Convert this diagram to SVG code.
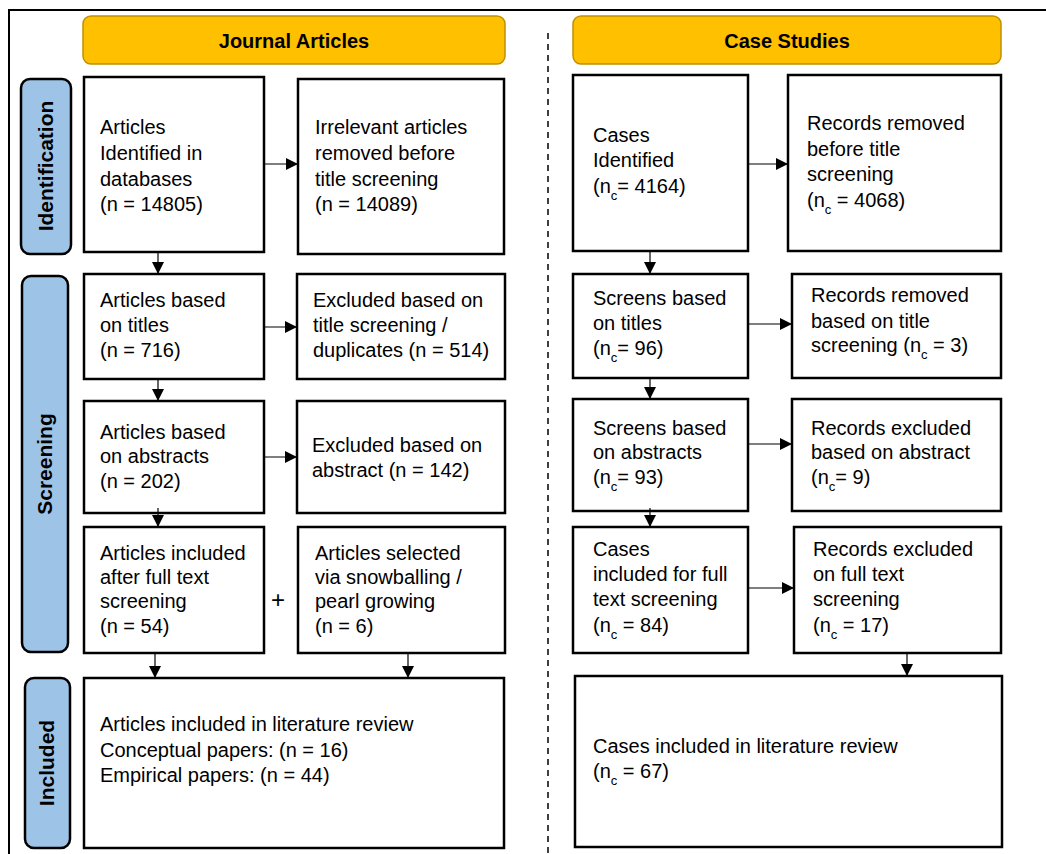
<svg xmlns="http://www.w3.org/2000/svg" width="1046" height="854" viewBox="0 0 1046 854">
<style>
  .box{fill:#fff;stroke:#000;stroke-width:2.5}
  .hdr{fill:#FFC000;stroke:#BF9000;stroke-width:1.5}
  .lbl{fill:#9DC3E6;stroke:#000;stroke-width:2.5}
  .t{font-family:"Liberation Sans",Arial,sans-serif;font-size:20px;fill:#000}
  .hb{font-family:"Liberation Sans",Arial,sans-serif;font-size:20px;font-weight:bold;fill:#000;text-anchor:middle}
  .sb{font-family:"Liberation Sans",Arial,sans-serif;font-size:21px;font-weight:bold;fill:#000;text-anchor:middle}
  .s{font-size:13px}
  .c{stroke:#000;stroke-width:1.2;fill:none;marker-end:url(#ah)}
</style>
<defs>
  <marker id="ah" markerUnits="userSpaceOnUse" markerWidth="12" markerHeight="12" refX="12" refY="6" orient="auto">
    <path d="M0,0 L12,6 L0,12 z" fill="#000"/>
  </marker>
</defs>
<rect width="1046" height="854" fill="#fff"/>
<g id="frame">
  <path d="M9,854 V10 H1046" fill="none" stroke="#000" stroke-width="2"/>
  <line x1="548" y1="33" x2="548" y2="854" stroke="#000" stroke-width="1.5" stroke-dasharray="6,5"/>
</g>
<g id="hdr-journal"><rect class="hdr" x="83" y="16" width="422" height="48" rx="8"/><text class="hb" x="294" y="48">Journal Articles</text></g>
<g id="hdr-case"><rect class="hdr" x="573" y="16" width="428" height="48" rx="8"/><text class="hb" x="787" y="48">Case Studies</text></g>
<g id="lbl-identification"><rect class="lbl" x="21" y="79" width="50" height="175" rx="9"/><text class="sb" transform="translate(53,166) rotate(-90)">Identification</text></g>
<g id="lbl-screening"><rect class="lbl" x="22" y="276" width="46" height="376" rx="9"/><text class="sb" transform="translate(52,464) rotate(-90)">Screening</text></g>
<g id="lbl-included"><rect class="lbl" x="25" y="678" width="45" height="170" rx="9"/><text class="sb" transform="translate(54,763) rotate(-90)">Included</text></g>

<g id="a1"><rect class="box" x="84" y="77" width="180" height="175"/><text class="t"><tspan x="100" y="134">Articles</tspan><tspan x="100" y="160">Identified in</tspan><tspan x="100" y="186">databases</tspan><tspan x="100" y="211">(n = 14805)</tspan></text></g>
<g id="a2"><rect class="box" x="298" y="79" width="206" height="175"/><text class="t"><tspan x="315" y="134">Irrelevant articles</tspan><tspan x="315" y="160">removed before</tspan><tspan x="315" y="186">title screening</tspan><tspan x="315" y="211">(n = 14089)</tspan></text></g>
<g id="b1"><rect class="box" x="84" y="274" width="180" height="105"/><text class="t"><tspan x="100" y="307">Articles based</tspan><tspan x="100" y="332">on titles</tspan><tspan x="100" y="357">(n = 716)</tspan></text></g>
<g id="b2"><rect class="box" x="297" y="274" width="208" height="105"/><text class="t"><tspan x="313" y="307">Excluded based on</tspan><tspan x="313" y="332">title screening /</tspan><tspan x="313" y="357">duplicates (n = 514)</tspan></text></g>
<g id="c1"><rect class="box" x="84" y="401" width="180" height="112"/><text class="t"><tspan x="100" y="439">Articles based</tspan><tspan x="100" y="463">on abstracts</tspan><tspan x="100" y="488">(n = 202)</tspan></text></g>
<g id="c2"><rect class="box" x="297" y="401" width="208" height="112"/><text class="t"><tspan x="312" y="452">Excluded based on</tspan><tspan x="312" y="477">abstract (n = 142)</tspan></text></g>
<g id="d1"><rect class="box" x="84" y="527" width="180" height="126"/><text class="t"><tspan x="100" y="560">Articles included</tspan><tspan x="100" y="584">after full text</tspan><tspan x="100" y="608">screening</tspan><tspan x="100" y="633">(n = 54)</tspan></text></g>
<g id="plus"><text class="t" x="278" y="608" text-anchor="middle" style="font-size:24px">+</text></g>
<g id="d2"><rect class="box" x="298" y="527" width="207" height="126"/><text class="t"><tspan x="315" y="560">Articles selected</tspan><tspan x="315" y="584">via snowballing /</tspan><tspan x="315" y="608">pearl growing</tspan><tspan x="315" y="633">(n = 6)</tspan></text></g>
<g id="e"><rect class="box" x="84" y="678" width="420" height="170"/><text class="t"><tspan x="100" y="731">Articles included in literature review</tspan><tspan x="100" y="757">Conceptual papers: (n = 16)</tspan><tspan x="100" y="782">Empirical papers: (n = 44)</tspan></text></g>

<g id="f1"><rect class="box" x="573" y="75" width="175" height="176"/><text class="t"><tspan x="593" y="142">Cases</tspan><tspan x="593" y="167">Identified</tspan><tspan x="593" y="193">(n<tspan class="s" dy="7">c</tspan><tspan dy="-7">= 4164)</tspan></tspan></text></g>
<g id="f2"><rect class="box" x="788" y="75" width="213" height="176"/><text class="t"><tspan x="807" y="130">Records removed</tspan><tspan x="807" y="156">before title</tspan><tspan x="807" y="181">screening</tspan><tspan x="807" y="207">(n<tspan class="s" dy="7">c</tspan><tspan dy="-7"> = 4068)</tspan></tspan></text></g>
<g id="g1"><rect class="box" x="573" y="274" width="175" height="104"/><text class="t"><tspan x="593" y="305">Screens based</tspan><tspan x="593" y="330">on titles</tspan><tspan x="593" y="355">(n<tspan class="s" dy="7">c</tspan><tspan dy="-7">= 96)</tspan></tspan></text></g>
<g id="g2"><rect class="box" x="792" y="274" width="209" height="104"/><text class="t"><tspan x="811" y="302">Records removed</tspan><tspan x="811" y="328">based on title</tspan><tspan x="811" y="352">screening (n<tspan class="s" dy="7">c</tspan><tspan dy="-7"> = 3)</tspan></tspan></text></g>
<g id="h1"><rect class="box" x="573" y="399" width="175" height="112"/><text class="t"><tspan x="593" y="435">Screens based</tspan><tspan x="593" y="459">on abstracts</tspan><tspan x="593" y="484">(n<tspan class="s" dy="7">c</tspan><tspan dy="-7">= 93)</tspan></tspan></text></g>
<g id="h2"><rect class="box" x="792" y="399" width="209" height="112"/><text class="t"><tspan x="811" y="435">Records excluded</tspan><tspan x="811" y="459">based on abstract</tspan><tspan x="811" y="484">(n<tspan class="s" dy="7">c</tspan><tspan dy="-7">= 9)</tspan></tspan></text></g>
<g id="i1"><rect class="box" x="573" y="527" width="175" height="126"/><text class="t"><tspan x="593" y="556">Cases</tspan><tspan x="593" y="581">included for full</tspan><tspan x="593" y="606">text screening</tspan><tspan x="593" y="632">(n<tspan class="s" dy="7">c</tspan><tspan dy="-7"> = 84)</tspan></tspan></text></g>
<g id="i2"><rect class="box" x="794" y="527" width="207" height="126"/><text class="t"><tspan x="813" y="556">Records excluded</tspan><tspan x="813" y="581">on full text</tspan><tspan x="813" y="606">screening</tspan><tspan x="813" y="632">(n<tspan class="s" dy="7">c</tspan><tspan dy="-7"> = 17)</tspan></tspan></text></g>
<g id="j"><rect class="box" x="575" y="676" width="427" height="171"/><text class="t"><tspan x="593" y="753">Cases included in literature review</tspan><tspan x="593" y="778">(n<tspan class="s" dy="7">c</tspan><tspan dy="-7"> = 67)</tspan></tspan></text></g>

<g id="connectors">
  <line class="c" x1="264" y1="164" x2="298" y2="164"/>
  <line class="c" x1="158" y1="252" x2="158" y2="274"/>
  <line class="c" x1="264" y1="327" x2="297" y2="327"/>
  <line class="c" x1="158" y1="379" x2="158" y2="401"/>
  <line class="c" x1="264" y1="457" x2="297" y2="457"/>
  <line class="c" x1="158" y1="508" x2="158" y2="527"/>
  <line class="c" x1="155" y1="653" x2="155" y2="678"/>
  <line class="c" x1="408" y1="653" x2="408" y2="678"/>
  <line class="c" x1="748" y1="164" x2="788" y2="164"/>
  <line class="c" x1="650" y1="251" x2="650" y2="274"/>
  <line class="c" x1="748" y1="324" x2="792" y2="324"/>
  <line class="c" x1="650" y1="378" x2="650" y2="399"/>
  <line class="c" x1="748" y1="444" x2="792" y2="444"/>
  <line class="c" x1="650" y1="508" x2="650" y2="527"/>
  <line class="c" x1="748" y1="588" x2="794" y2="588"/>
  <line class="c" x1="907" y1="653" x2="907" y2="676"/>
</g>
</svg>
